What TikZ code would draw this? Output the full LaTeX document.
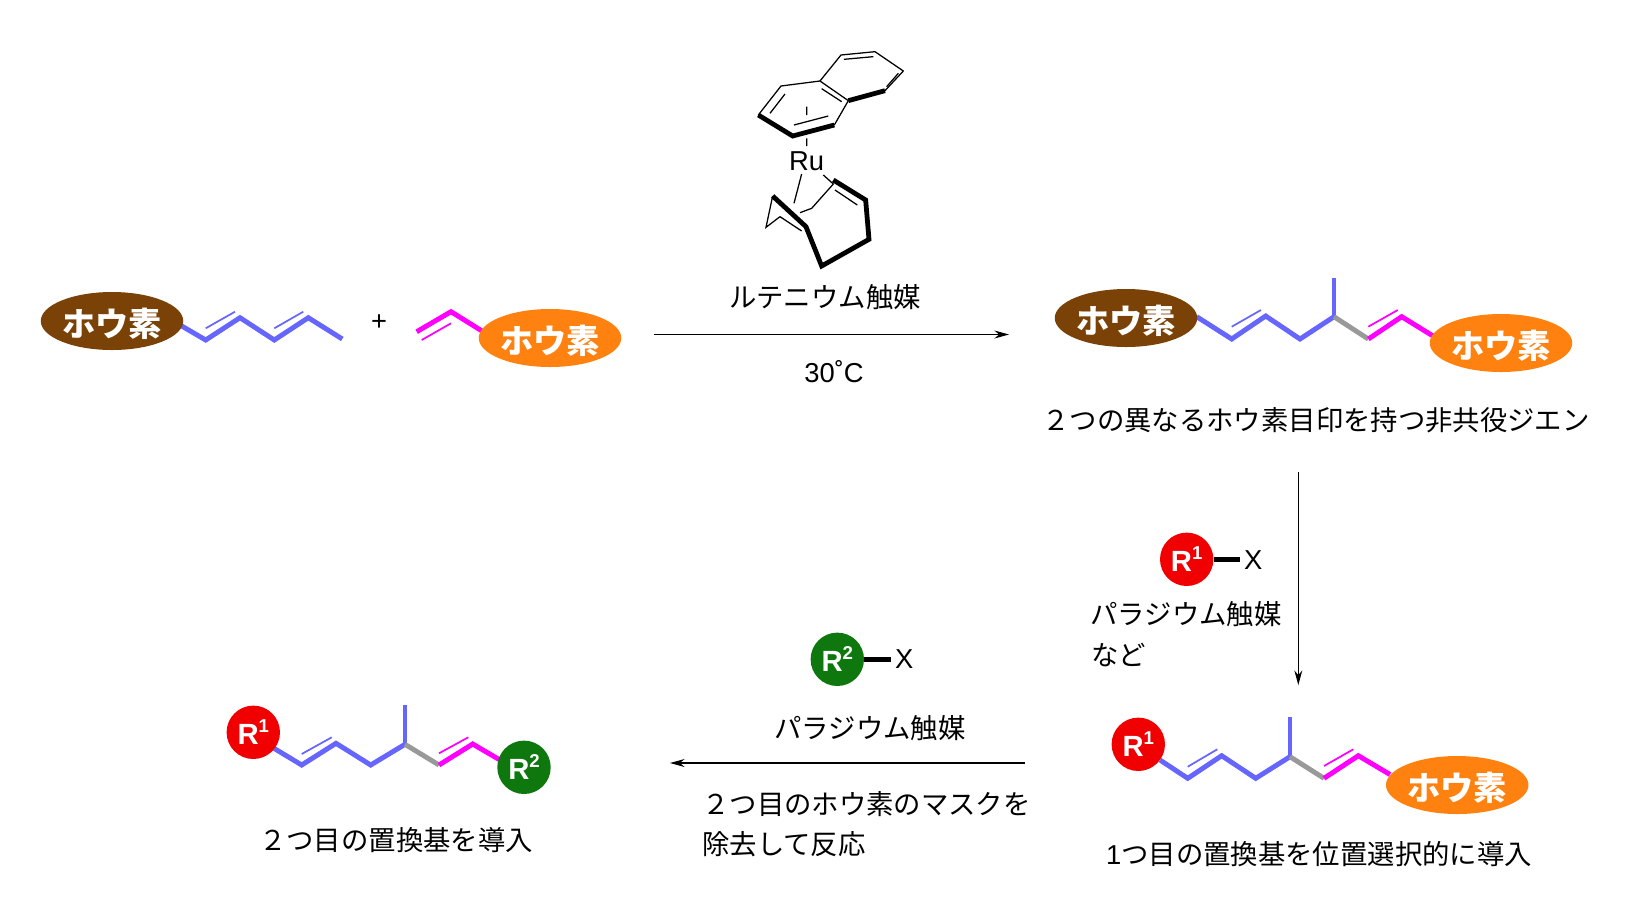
\documentclass[tikz,border=0pt]{standalone}
\usepackage{fontspec}
\setmainfont{Noto Sans CJK JP}
\newfontfamily\latn{Liberation Sans}
\usetikzlibrary{shapes.geometric,arrows.meta}
\definecolor{cblue}{HTML}{6666FF}
\definecolor{cmag}{HTML}{FF00FF}
\definecolor{cgrey}{HTML}{999999}
\definecolor{cbrown}{HTML}{7A4206}
\definecolor{corange}{HTML}{FF8210}
\definecolor{cred}{HTML}{F00000}
\definecolor{cgreen}{HTML}{0E780E}
\newcommand{\rlab}[1]{{\latn\bfseries\fontsize{22}{24}\selectfont R\raisebox{0.4em}{\fontsize{14}{14}\selectfont #1}}}
\newcommand{\boro}{\raisebox{-2.3pt}[\height][\depth]{ホウ素}}
\tikzset{
 txt/.style={font=\fontsize{20.6}{24}\selectfont,text=black,inner sep=0pt},
 lat/.style={font=\latn\fontsize{20.6}{24}\selectfont,text=black,inner sep=0pt},
 boron/.style={ellipse,minimum width=142.5bp*0.75,minimum height=58bp*0.75,inner sep=0pt,fill=#1,text=white,
   font=\bfseries\fontsize{25}{26}\selectfont},
 rgroup/.style={circle,minimum size=53.4bp*0.75,inner sep=0pt,fill=#1,text=white},
 chain/.style={line width=3.7pt,line join=miter},
 inner/.style={line width=1.3pt},
 rxn/.style={line width=0.8pt,-{Stealth[length=11pt,width=6pt]}},
 xbond/.style={line width=3.8pt,black,shorten >=3pt},
 thin/.style={line width=0.95pt,black},
 thick/.style={line width=3.6pt,black,line join=miter},
}
\begin{document}
\begin{tikzpicture}[x=0.75bp,y=-0.75bp]
\useasboundingbox[fill=white] (0,0) rectangle (1645,901);

% --- catalyst
\node[lat] (ru) at (806.7,161.7) {Ru};
\node[txt] (catname) at (825,297) {ルテニウム触媒};
\begin{scope}[x=0.25bp,y=-0.25bp,shift={(2160,90)}]
 \draw[thin,line join=round] (115,255)--(183,168)--(300,153)--(385,212)--(343,285);
 \draw[thin,line join=round] (300,153)--(363,75)--(465,65)--(550,123)--(495,182);
 \draw[thin] (150,250)--(195,192) (305,176)--(365,215) (222,285)--(325,258)
   (372,88)--(460,80) (500,170)--(535,130) (260,230)--(260,255) (260,325)--(260,348);
 \draw[thick] (115,255)--(218,318)--(343,285);
 \draw[thick] (385,212)--(495,182);
 \draw[thin] (245,432)--(222,520) (310,435)--(340,462)--(275,535)--(240,548);
 \draw[thin] (158,498)--(138,592)--(180,560);
 \draw[thin] (345,480)--(412,525) (180,560)--(245,603);
 \draw[thick] (340,450)--(437,510)--(447,628)--(305,708)--(258,590)--(158,498);
\end{scope}

% --- substrate 1
\path (180,325) coordinate (a1) (205.7,340) coordinate (a2) (240,317.7) coordinate (a3)
      (274.3,340) coordinate (a4) (308.3,317.7) coordinate (a5) (342.3,339) coordinate (a6)
      (205.7,328.3) coordinate (a2i) (235,311.7) coordinate (a3i)
      (274.3,328.3) coordinate (a4i) (303.3,311.7) coordinate (a5i);
\draw[chain,cblue] (a1)--(a2)--(a3)--(a4)--(a5)--(a6);
\draw[inner,cblue] (a2i)--(a3i) (a4i)--(a5i);
\node[boron=cbrown] (b1) at (112,321) {\boro};
\node[lat] (plus) at (379,323) {+};

% --- substrate 2
\path (416.7,331.7) coordinate (m1) (451,311.7) coordinate (m2) (482,331) coordinate (m3)
      (421.7,340) coordinate (m1i) (451,323.3) coordinate (m2i);
\draw[chain,cmag] (m1)--(m2)--(m3);
\draw[inner,cmag] (m1i)--(m2i);
\node[boron=corange] (b2) at (550,338) {\boro};

% --- arrow 1
\coordinate (r1s) at (653.5,334.5);
\coordinate (r1e) at (1009,334.5);
\draw[rxn] (r1s)--(r1e);
\node[lat] (temp) at (834,372) {30˚C};

% --- product 1
\path (1196.7,316.7) coordinate (c1) (1231.7,339) coordinate (c2) (1265.7,316) coordinate (c3)
      (1300,339) coordinate (c4) (1334,316.7) coordinate (c5) (1368.3,339) coordinate (c6)
      (1401.7,316.7) coordinate (c7) (1433,336) coordinate (c8) (1334,278.3) coordinate (c9)
      (1231.7,326.7) coordinate (c2i) (1261,310) coordinate (c3i)
      (1368.3,326.7) coordinate (c6i) (1397.7,310) coordinate (c7i);
\draw[chain,cblue] (c1)--(c2)--(c3)--(c4)--(c5);
\draw[chain,cblue] (c9)--(c5);
\draw[chain,cgrey] (c5)--(c6);
\draw[chain,cmag] (c6)--(c7)--(c8);
\draw[inner,cblue] (c2i)--(c3i);
\draw[inner,cmag] (c6i)--(c7i);
\node[boron=cbrown] (b3) at (1126,318) {\boro};
\node[boron=corange] (b4) at (1501,343) {\boro};
\node[txt] (cap1) at (1316,420) {２つの異なるホウ素目印を持つ非共役ジエン};

% --- arrow 2
\coordinate (r2s) at (1298.3,472);
\coordinate (r2e) at (1298.3,685);
\draw[rxn] (r2s)--(r2e);
\node[rgroup=cred] (ra) at (1186.7,559.3) {\rlab{1}};
\node[lat] (xa) at (1253.3,559.8) {X};
\draw[xbond] (ra.east)--(ra.east -| xa.west);
\node[txt] (pda) at (1186,614) {パラジウム触媒};
\node[txt,anchor=west] (nado) at (1091,655) {など};

% --- product 2
\path (1160,760) coordinate (d1) (1187.7,778.3) coordinate (d2) (1221.7,755.7) coordinate (d3)
      (1255.7,778.3) coordinate (d4) (1290,756.7) coordinate (d5) (1324,778.3) coordinate (d6)
      (1358.3,755.7) coordinate (d7) (1390,774.5) coordinate (d8) (1290,717.3) coordinate (d9)
      (1187.7,766.7) coordinate (d2i) (1217.3,749.3) coordinate (d3i)
      (1324,766) coordinate (d6i) (1353.3,749.3) coordinate (d7i);
\draw[chain,cblue] (d1)--(d2)--(d3)--(d4)--(d5);
\draw[chain,cblue] (d9)--(d5);
\draw[chain,cgrey] (d5)--(d6);
\draw[chain,cmag] (d6)--(d7)--(d8);
\draw[inner,cblue] (d2i)--(d3i);
\draw[inner,cmag] (d6i)--(d7i);
\node[rgroup=cred] (rb) at (1138.3,744.3) {\rlab{1}};
\node[boron=corange] (b5) at (1457.2,785) {\boro};
\node[txt] (cap2) at (1319,854.3) {{\latn 1}つ目の置換基を位置選択的に導入};

% --- arrow 3
\coordinate (r3s) at (1025,763);
\coordinate (r3e) at (670,763);
\draw[rxn] (r3s)--(r3e);
\node[rgroup=cgreen] (rc) at (837.3,659.3) {\rlab{2}};
\node[lat] (xc) at (904.3,659.3) {X};
\draw[xbond] (rc.east)--(rc.east -| xc.west);
\node[txt] (pdc) at (870,728.3) {パラジウム触媒};
\node[txt,anchor=west] (mask1) at (702,804) {２つ目のホウ素のマスクを};
\node[txt,anchor=west] (mask2) at (702,844) {除去して反応};

% --- product 3
\path (274,748.3) coordinate (e1) (301.7,765) coordinate (e2) (336,743.3) coordinate (e3)
      (370.7,765) coordinate (e4) (405,744.3) coordinate (e5) (439,765) coordinate (e6)
      (472.7,744) coordinate (e7) (500,760) coordinate (e8) (405,705) coordinate (e9)
      (301.7,754) coordinate (e2i) (331.7,737.3) coordinate (e3i)
      (439,753.3) coordinate (e6i) (468.3,737.3) coordinate (e7i);
\draw[chain,cblue] (e1)--(e2)--(e3)--(e4)--(e5);
\draw[chain,cblue] (e9)--(e5);
\draw[chain,cgrey] (e5)--(e6);
\draw[chain,cmag] (e6)--(e7)--(e8);
\draw[inner,cblue] (e2i)--(e3i);
\draw[inner,cmag] (e6i)--(e7i);
\node[rgroup=cred] (rd) at (253.3,732.3) {\rlab{1}};
\node[rgroup=cgreen] (re) at (524,767.3) {\rlab{2}};
\node[txt] (cap3) at (396,840) {２つ目の置換基を導入};
\end{tikzpicture}
\end{document}
